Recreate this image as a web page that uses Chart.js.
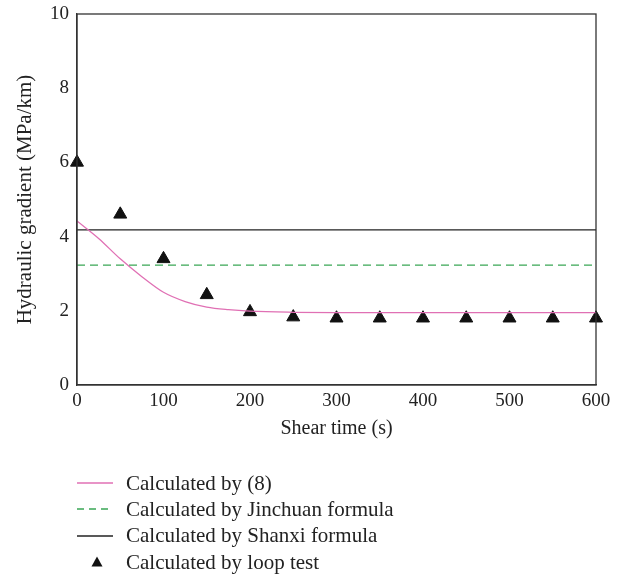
<!DOCTYPE html>
<html>
<head>
<meta charset="utf-8">
<script src="https://cdn.jsdelivr.net/npm/chart.js@4"></script>
<style>
  body { margin: 0; background: #fff; }
  #wrap { position: relative; width: 619px; height: 578px; }
  #legend { position: absolute; left: 76px; top: 470px; font-family: "Liberation Serif", serif; font-size: 21px; color: #222; }
  .row { height: 26.3px; display: flex; align-items: center; }
  .row svg { width: 50px; height: 12px; }
</style>
</head>
<body>
<div id="wrap">
  <canvas id="myChart" width="619" height="578"></canvas>
  <div id="legend"></div>
</div>
<script>
const shearTime = [0, 25, 50, 75, 100, 125, 150, 175, 200, 250, 300, 350, 400, 450, 500, 550, 600];
const calcBy8 = [4.42, 3.95, 3.4, 2.92, 2.5, 2.25, 2.1, 2.03, 1.99, 1.96, 1.95, 1.95, 1.95, 1.95, 1.95, 1.95, 1.95];

const lineEnds = [0, 600];
const jinchuan = [3.23, 3.23];
const shanxi = [4.18, 4.18];

const testTime = [0, 50, 100, 150, 200, 250, 300, 350, 400, 450, 500, 550, 600];
const loopTest = [6.0, 4.6, 3.4, 2.43, 1.97, 1.83, 1.8, 1.8, 1.8, 1.8, 1.8, 1.8, 1.8];

const yTicks = [0, 2, 4, 6, 8, 10];
const legendLabels = ['Calculated by (8)', 'Calculated by Jinchuan formula', 'Calculated by Shanxi formula', 'Calculated by loop test'];

const pink = '#e070b4';
const green = '#3aa655';
const dark = '#222';
const font = "'Liberation Serif', serif";

function toPoints(xs, ys) {
    return xs.map((x, i) => ({ x: x, y: ys[i] }));
}

const boxPlugin = {
    id: 'box',
    afterDatasetsDraw(chart) {
        const a = chart.chartArea;
        const ctx = chart.ctx;
        ctx.save();
        ctx.strokeStyle = '#333';
        ctx.lineWidth = 1.3;
        ctx.strokeRect(a.left, a.top, a.right - a.left, a.bottom - a.top);
        ctx.restore();
    }
};

const ctx = document.getElementById('myChart').getContext('2d');
new Chart(ctx, {
    type: 'line',
    data: {
        datasets: [
            {
                label: legendLabels[0],
                data: toPoints(shearTime, calcBy8),
                borderColor: pink,
                borderWidth: 1.3,
                pointRadius: 0,
                cubicInterpolationMode: 'monotone',
                fill: false
            },
            {
                label: legendLabels[1],
                data: toPoints(lineEnds, jinchuan),
                borderColor: green,
                borderWidth: 1.3,
                borderDash: [8, 5],
                pointRadius: 0,
                fill: false
            },
            {
                label: legendLabels[2],
                data: toPoints(lineEnds, shanxi),
                borderColor: dark,
                borderWidth: 1.3,
                pointRadius: 0,
                fill: false
            },
            {
                label: legendLabels[3],
                data: toPoints(testTime, loopTest),
                showLine: false,
                pointStyle: 'triangle',
                pointRadius: 7.5,
                backgroundColor: '#111',
                borderColor: '#111',
                borderWidth: 1,
                clip: false
            }
        ]
    },
    options: {
        responsive: false,
        animation: false,
        events: [],
        layout: { padding: { left: 0, top: 14, right: 23, bottom: 133 } },
        plugins: { legend: { display: false }, tooltip: { enabled: false } },
        scales: {
            x: {
                type: 'linear',
                min: 0,
                max: 600,
                afterFit(scale) { scale.height = 60; scale.paddingLeft = 0; scale.paddingRight = 0; },
                grid: { display: false, drawTicks: false },
                border: { display: true, color: '#333', width: 1.3 },
                ticks: { stepSize: 100, padding: 5, color: dark, font: { family: font, size: 19 } },
                title: { display: true, text: 'Shear time (s)', color: dark, padding: { top: 6 }, font: { family: font, size: 20 } }
            },
            y: {
                min: 0,
                max: 10,
                afterFit(scale) { scale.width = 77; scale.paddingTop = 0; scale.paddingBottom = 0; },
                afterBuildTicks(scale) { scale.ticks = yTicks.map(v => ({ value: v })); },
                grid: { display: false, drawTicks: false },
                border: { display: true, color: '#333', width: 1.3 },
                ticks: { padding: 8, color: dark, font: { family: font, size: 19 } },
                title: { display: true, text: 'Hydraulic gradient (MPa/km)', color: dark, padding: { top: 13 }, font: { family: font, size: 21 } }
            }
        }
    },
    plugins: [boxPlugin]
});

// legend below the chart
const swatches = [
    `<line x1="1" y1="6" x2="37" y2="6" stroke="${pink}" stroke-width="1.5"/>`,
    `<line x1="1" y1="6" x2="37" y2="6" stroke="${green}" stroke-width="1.5" stroke-dasharray="7,5"/>`,
    `<line x1="1" y1="6" x2="37" y2="6" stroke="${dark}" stroke-width="1.3"/>`,
    `<polygon points="21,0.5 26.5,10.5 15.5,10.5" fill="#111"/>`
];
const legend = document.getElementById('legend');
legendLabels.forEach((label, i) => {
    const row = document.createElement('div');
    row.className = 'row';
    row.innerHTML = `<svg viewBox="0 0 50 12">${swatches[i]}</svg><span>${label}</span>`;
    legend.appendChild(row);
});
</script>
</body>
</html>
